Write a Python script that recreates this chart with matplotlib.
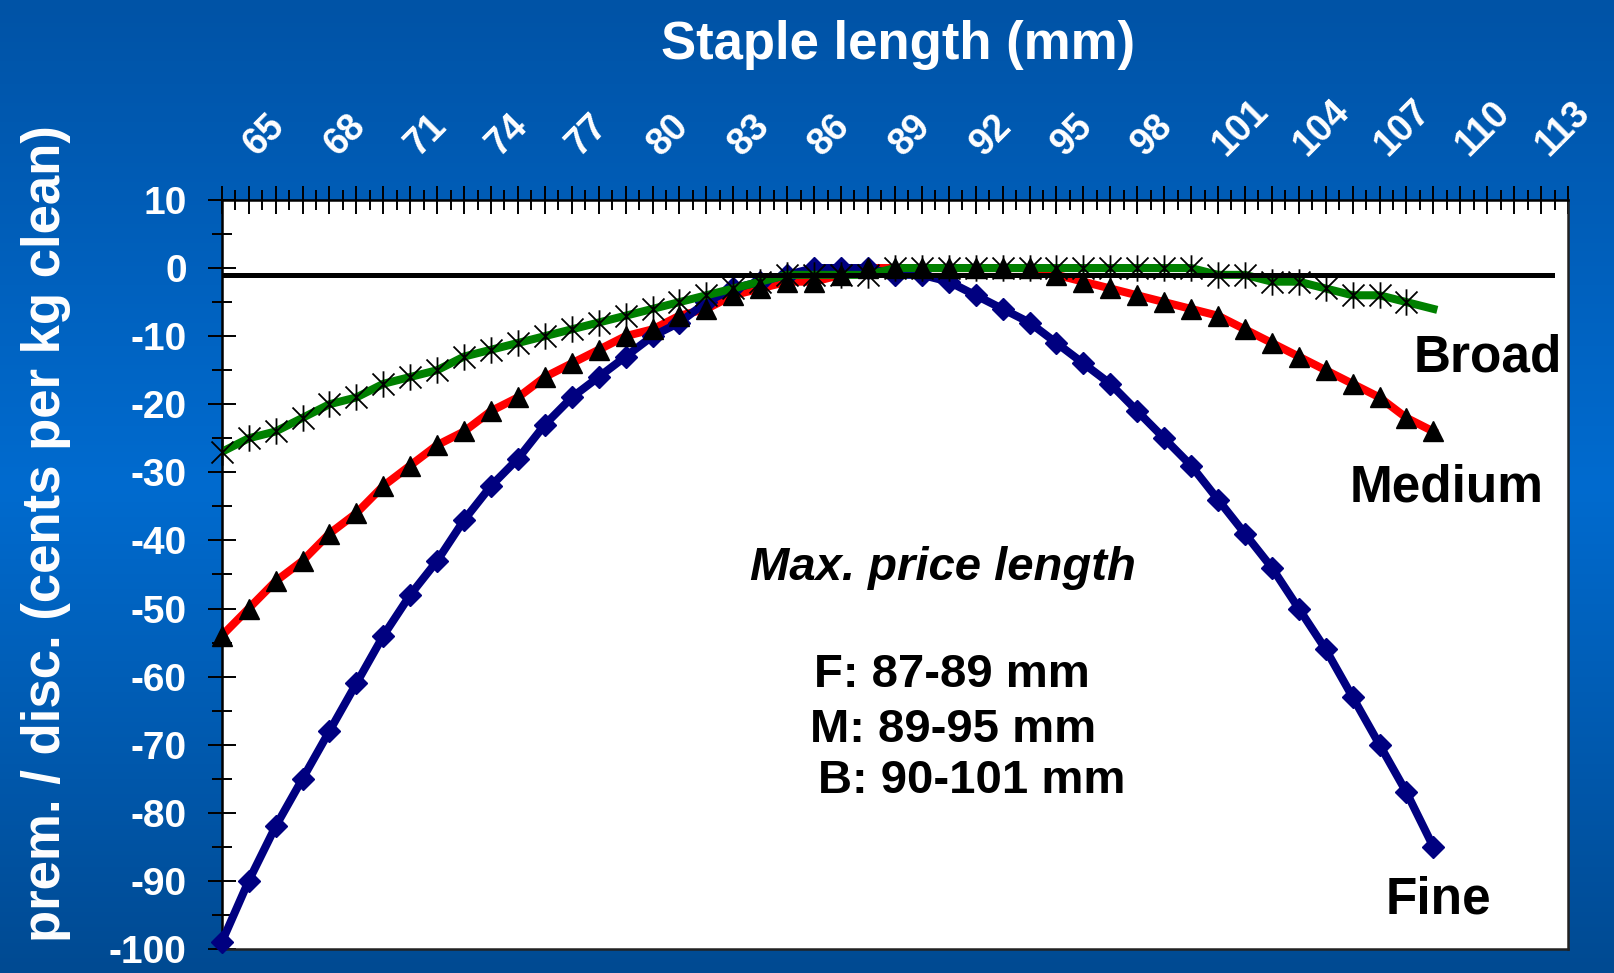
import numpy as np
import matplotlib
matplotlib.use("Agg")
import matplotlib.pyplot as plt
import matplotlib.ticker as mticker
import matplotlib.transforms as mtransforms
from matplotlib.path import Path
from matplotlib.colors import LinearSegmentedColormap

plt.rcParams['font.family'] = ['Liberation Sans', 'DejaVu Sans']
plt.rcParams['font.weight'] = 'bold'
plt.rcParams['axes.unicode_minus'] = False

# staple length (mm) and premium / discount (cents per kg clean)
length_mm = list(range(63, 109))
fine = [-99, -90, -82, -75, -68, -61, -54, -48, -43, -37, -32, -28, -23, -19, -16,
        -13, -10, -8, -5, -3, -2, -1, 0, 0, 0, -1, -1, -2, -4, -6, -8, -11, -14,
        -17, -21, -25, -29, -34, -39, -44, -50, -56, -63, -70, -77, -85]
medium = [-54, -50, -46, -43, -39, -36, -32, -29, -26, -24, -21, -19, -16, -14, -12,
          -10, -9, -7, -6, -4, -3, -2, -2, -1, 0, 0, 0, 0, 0, 0, 0, -1, -2,
          -3, -4, -5, -6, -7, -9, -11, -13, -15, -17, -19, -22, -24]
broad = [-27, -25, -24, -22, -20, -19, -17, -16, -15, -13, -12, -11, -10, -9, -8,
         -7, -6, -5, -4, -3, -2, -1, -1, -1, -1, 0, 0, 0, 0, 0, 0, 0, 0,
         0, 0, 0, 0, -1, -1, -2, -2, -3, -4, -4, -5, -6]
ref_x = [63, 112.4]
ref_y = [-1, -1]

x_tick_labels = ['65', '68', '71', '74', '77', '80', '83', '86', '89', '92',
                 '95', '98', '101', '104', '107', '110', '113']

fig = plt.figure(figsize=(16.14, 9.73), dpi=100)

# blue gradient background
bg = fig.add_axes([0, 0, 1, 1], zorder=-10)
grad = np.linspace(0, 1, 256).reshape(-1, 1)
cmap = LinearSegmentedColormap.from_list(
    "bg", [(0, "#0053A6"), (0.5, "#006BCF"), (1, "#004A92")])
bg.imshow(grad, aspect='auto', cmap=cmap, extent=[0, 1, 0, 1], origin='upper')
bg.axis('off')

ax = fig.add_axes([0.1374, 0.0247, 0.8341, 0.7698])
ax.set_facecolor('white')
ax.set_xlim(63, 113)
ax.set_ylim(-100, 10)

star = Path([(-1, -1), (1, 1), (-1, 1), (1, -1), (0, -1.2), (0, 1.2)],
            [Path.MOVETO, Path.LINETO, Path.MOVETO, Path.LINETO, Path.MOVETO, Path.LINETO])

ax.plot(length_mm, medium, color='#FF0000', lw=5.8, zorder=2)
ax.plot(length_mm, fine, color='#000080', lw=5.8, marker='D', ms=11.5,
        mfc='#000080', mec='#000080', zorder=3, clip_on=False)
ax.plot(length_mm, broad, color='#008000', lw=5.8, zorder=4)
ax.plot(ref_x, ref_y, color='black', lw=3.6, zorder=4.5)
ax.plot(length_mm, broad, ls='none', marker=star, ms=19, mfc='none', mec='black',
        mew=1.3, markevery=list(range(len(broad) - 1)), zorder=5, clip_on=False)
ax.plot(length_mm, medium, ls='none', marker='^', ms=15, color='black', zorder=6,
        clip_on=False)

# ticks
ax.xaxis.tick_top()
ax.xaxis.set_major_locator(mticker.MultipleLocator(1))
ax.xaxis.set_minor_locator(mticker.MultipleLocator(0.5))
ax.xaxis.set_major_formatter(mticker.FuncFormatter(
    lambda v, p: str(int(round(v))) if str(int(round(v))) in x_tick_labels else ""))
ax.yaxis.set_major_locator(mticker.MultipleLocator(10))
ax.yaxis.set_minor_locator(mticker.MultipleLocator(5))

ax.tick_params(axis='x', which='major', direction='inout', length=19.7, width=1.4,
               pad=26, labelsize=27, labelcolor='white')
ax.tick_params(axis='x', which='minor', direction='inout', length=14.4, width=1.4)
ax.tick_params(axis='y', which='major', direction='inout', length=20.5, width=1.4,
               pad=15, labelsize=28, labelcolor='white')
ax.tick_params(axis='y', which='minor', direction='inout', length=14.4, width=1.4)

offset = mtransforms.ScaledTranslation(-26 / 100, 0, fig.dpi_scale_trans)
for lab in ax.get_xticklabels():
    lab.set_rotation(45)
    lab.set_rotation_mode('anchor')
    lab.set_ha('left')
    lab.set_va('center')
    lab.set_transform(lab.get_transform() + offset)

for s in ax.spines.values():
    s.set_linewidth(1.8)
ax.spines['right'].set_color('#222222')
ax.spines['bottom'].set_color('#222222')

# annotations
ax.text(0.5359, 0.4927, "Max. price length", transform=ax.transAxes, ha='center',
        va='baseline', fontsize=34, style='italic')
ax.text(0.5426, 0.3498, "F: 87-89 mm", transform=ax.transAxes, ha='center',
        va='baseline', fontsize=34)
ax.text(0.5433, 0.2764, "M: 89-95 mm", transform=ax.transAxes, ha='center',
        va='baseline', fontsize=34)
ax.text(0.557, 0.2083, "B: 90-101 mm", transform=ax.transAxes, ha='center',
        va='baseline', fontsize=34)

ax.text(0.9408, 0.7708, "Broad", transform=ax.transAxes, ha='center',
        va='baseline', fontsize=37)
ax.text(0.9096, 0.598, "Medium", transform=ax.transAxes, ha='center',
        va='baseline', fontsize=37)
ax.text(0.9035, 0.048, "Fine", transform=ax.transAxes, ha='center',
        va='baseline', fontsize=37)

fig.text(0.5564, 0.9394, "Staple length (mm)", ha='center', va='baseline',
         fontsize=38, color='white')
fig.text(0.0285, 0.452, "prem. / disc. (cents per kg clean)", rotation=90,
         ha='center', va='center', fontsize=38, color='white')

fig.savefig("out.png", dpi=100)
